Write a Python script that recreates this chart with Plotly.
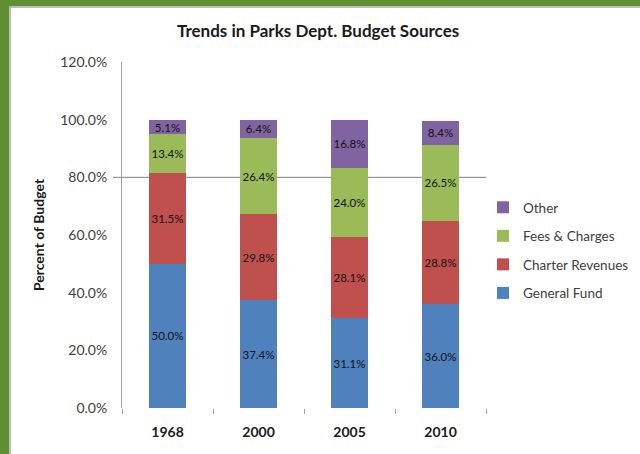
import plotly.graph_objects as go

years = ["1968", "2000", "2005", "2010"]
general_fund = [50.0, 37.4, 31.1, 36.0]
charter_revenues = [31.5, 29.8, 28.1, 28.8]
fees_charges = [13.4, 26.4, 24.0, 26.5]
other = [5.1, 6.4, 16.8, 8.4]

series = [
    ("General Fund", general_fund, "#4F81BD"),
    ("Charter Revenues", charter_revenues, "#C0504D"),
    ("Fees & Charges", fees_charges, "#9BBB59"),
    ("Other", other, "#8064A2"),
]

FONT = "Lato, Open Sans, sans-serif"

fig = go.Figure()
for i, (name, vals, col) in enumerate(series):
    fig.add_trace(go.Bar(
        x=years, y=vals, name=name, marker=dict(color=col, line=dict(width=0)),
        width=0.4, legendgroup=str(i), legendrank=4 - i,
        texttemplate="%{y:.1f}%", textposition="inside", insidetextanchor="middle",
        textangle=0, textfont=dict(color="#111111", size=11.5, family=FONT),
        hoverinfo="skip",
    ))

# plot area in pixels: x 122..486, y 62..408
L, R, T, B = 122, 486, 62, 408
W, H = R - L, B - T
def px(x):
    return (x - L) / W
def py(y):
    return (B - y) / H

shapes = [
    # 80% reference line behind bars
    dict(type="line", xref="paper", yref="y", x0=px(113), x1=1.0, y0=80, y1=80,
         line=dict(color="#7f7f7f", width=1), layer="below"),
    # green frame left and top
    dict(type="rect", xref="paper", yref="paper", x0=px(-2), x1=px(9), y0=py(460), y1=py(-2),
         fillcolor="#5E8F32", line=dict(width=0), layer="below"),
    dict(type="rect", xref="paper", yref="paper", x0=px(-2), x1=px(642), y0=py(6), y1=py(-2),
         fillcolor="#5E8F32", line=dict(width=0), layer="below"),
    dict(type="line", xref="paper", yref="paper", x0=px(10), x1=px(10), y0=py(460), y1=py(6),
         line=dict(color="#a8a8a8", width=1.5), layer="below"),
    dict(type="line", xref="paper", yref="paper", x0=px(9), x1=px(642), y0=py(7), y1=py(7),
         line=dict(color="#a8a8a8", width=1.5), layer="below"),
]

fig.update_layout(
    width=640, height=454,
    margin=dict(l=L, r=640 - R, t=T, b=454 - B, autoexpand=False),
    paper_bgcolor="white", plot_bgcolor="white",
    barmode="stack", bargap=0.6,
    font=dict(family=FONT, color="#404040", size=12),
    title=dict(text="<b>Trends in Parks Dept. Budget Sources</b>", x=0.497, xanchor="center",
               y=1 - 31 / 454, yanchor="middle", font=dict(size=17, color="#1a1a1a", family=FONT)),
    legend=dict(x=px(483), xanchor="left", y=py(192), yanchor="top",
                traceorder="grouped", tracegroupgap=8,
                font=dict(size=13.5, color="#404040", family=FONT),
                itemwidth=30, bgcolor="rgba(0,0,0,0)"),
    uniformtext=dict(minsize=11.5, mode="show"),
    shapes=shapes,
    showlegend=True,
)
fig.update_xaxes(
    type="category", showline=False, showgrid=False, zeroline=False,
    ticks="outside", tickson="boundaries", ticklen=5, tickcolor="#a0a0a0",
    ticklabelstandoff=14,
    tickfont=dict(size=14, color="#1a1a1a", family=FONT), tickprefix="<b>", ticksuffix="</b>",
)
fig.update_yaxes(
    range=[0, 120], dtick=20, tickformat=".1f", ticksuffix="%",
    showgrid=False, zeroline=False, showline=True, linecolor="#a0a0a0", linewidth=1,
    ticks="", ticklabelstandoff=11, tickfont=dict(size=14, color="#404040", family=FONT),
    title=dict(text="<b>Percent of Budget</b>", font=dict(size=14, color="#1a1a1a", family=FONT),
               standoff=12),
)

fig.write_html("out.html", config={"displayModeBar": False},
               post_script="document.body.style.margin='0px';")
